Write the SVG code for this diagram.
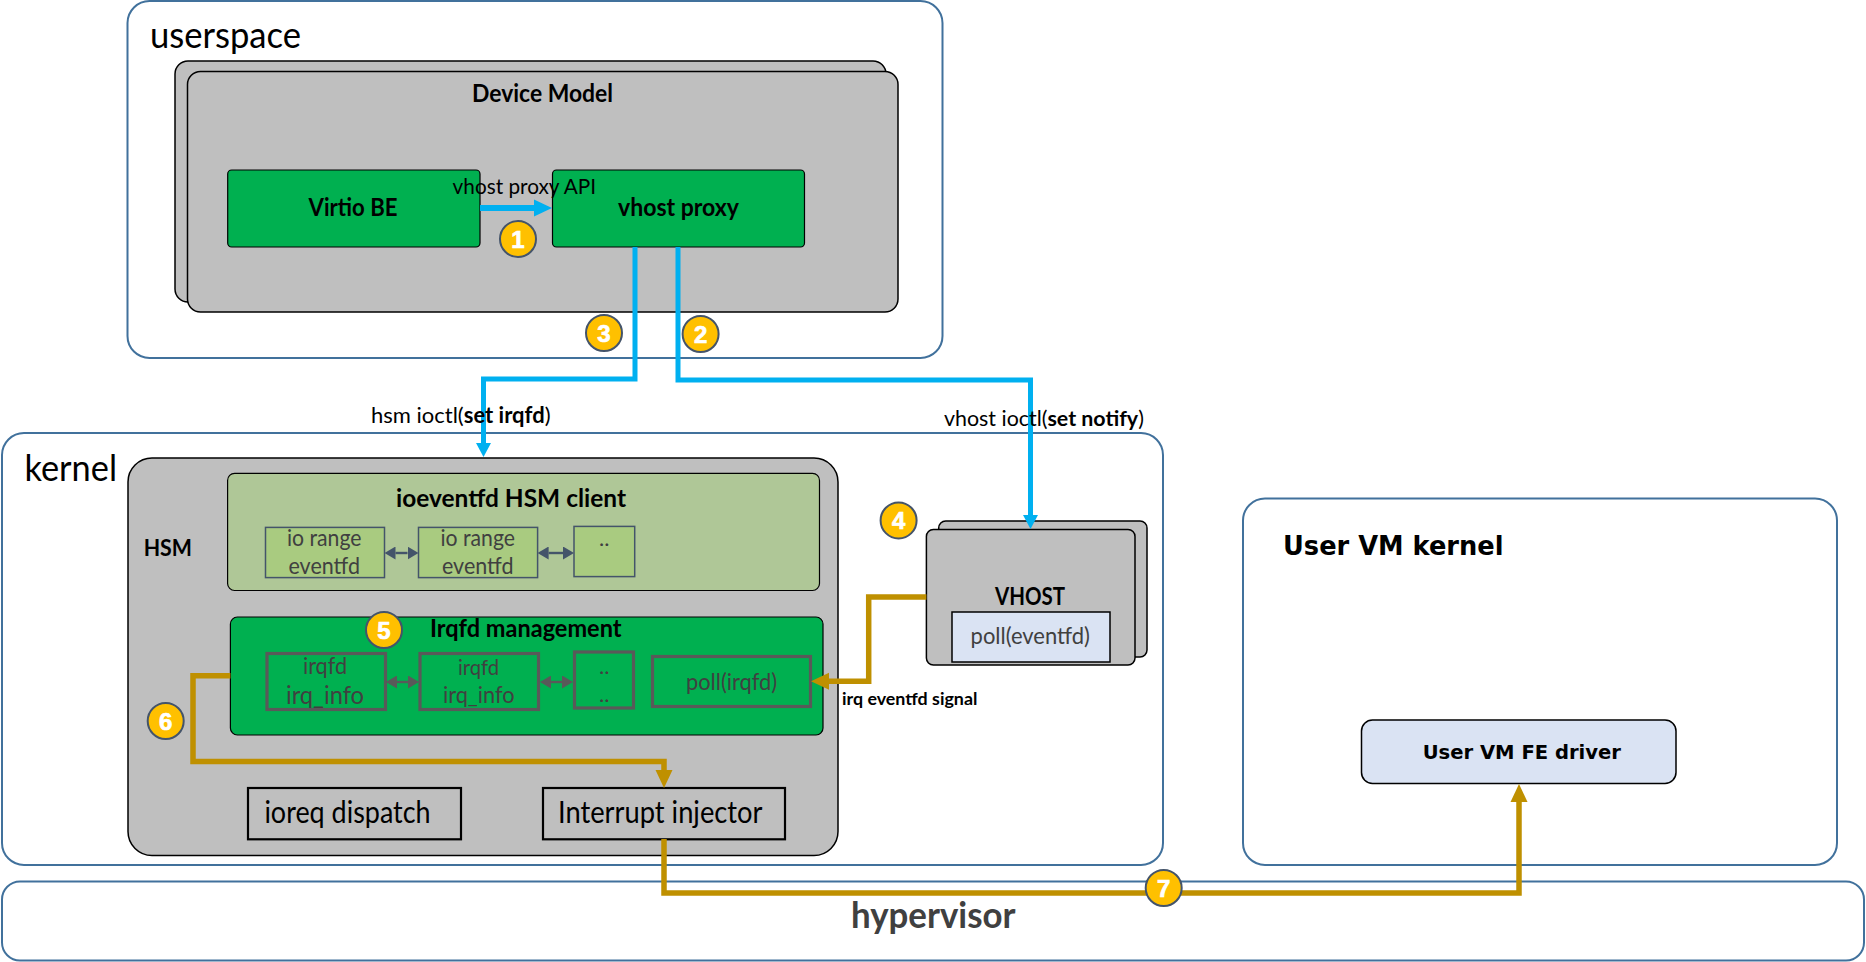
<svg xmlns="http://www.w3.org/2000/svg" width="1866" height="962" viewBox="0 0 1866 962">
<style>
text{font-family:"Lato","Open Sans","Liberation Sans",sans-serif;fill:#000}
.b{font-weight:700}
.v{font-family:"DejaVu Sans","Liberation Sans",sans-serif;font-weight:700}
.c{fill:#fff;stroke:#41719c;stroke-width:2}
.g{fill:#bfbfbf;stroke:#000;stroke-width:1.5}
.gr{fill:#00b050;stroke:#000;stroke-width:1.2}
.lg{fill:#afc797;stroke:#000;stroke-width:1.2}
.io{fill:#a9cb80;stroke:#44546a;stroke-width:1.5}
.ir{fill:none;stroke:#595959;stroke-width:3.2}
.bl{fill:none;stroke:#00b0f0;stroke-width:5}
.go{fill:none;stroke:#bf9000;stroke-width:5.5}
.d1{fill:none;stroke:#44546a;stroke-width:2.4}
.d2{fill:none;stroke:#595959;stroke-width:2.4}
.box{fill:none;stroke:#000;stroke-width:2.2}
.dk{fill:#404040}
.bd ellipse{fill:#ffc000;stroke:#44546a;stroke-width:2}
.bd text{fill:#fff;stroke:#fff;stroke-width:.7;font-family:"Liberation Sans",sans-serif;font-weight:700;font-size:24px;text-anchor:middle}
</style>
<defs>
<marker id="hb" markerUnits="userSpaceOnUse" markerWidth="14" markerHeight="16" refX="0" refY="8" orient="auto"><path d="M0 0.5L14 8L0 15.500Z" fill="#00b0f0"/></marker>
<marker id="hb1" markerUnits="userSpaceOnUse" markerWidth="18" markerHeight="18" refX="0" refY="9" orient="auto"><path d="M0 0.5L18 9L0 17.500Z" fill="#00b0f0"/></marker>
<marker id="hg" markerUnits="userSpaceOnUse" markerWidth="18" markerHeight="18" refX="0" refY="9" orient="auto"><path d="M0 0.5L18 9L0 17.500Z" fill="#bf9000"/></marker>
<marker id="d1" markerUnits="userSpaceOnUse" markerWidth="11" markerHeight="13" refX="0" refY="6.5" orient="auto-start-reverse"><path d="M0 0L11 6.5L0 13Z" fill="#44546a"/></marker>
<marker id="d2" markerUnits="userSpaceOnUse" markerWidth="11" markerHeight="13" refX="0" refY="6.5" orient="auto-start-reverse"><path d="M0 0L11 6.5L0 13Z" fill="#595959"/></marker>
</defs>

<g id="userspace">
<rect class="c" x="127.500" y="1" width="815" height="357" rx="22"/>
<text x="150" y="48" font-size="36" textLength="151" lengthAdjust="spacingAndGlyphs">userspace</text>
</g>
<g id="device-model">
<rect class="g" x="175" y="61" width="711" height="241" rx="13"/>
<rect class="g" x="187.500" y="71.500" width="710.500" height="240.500" rx="13"/>
<text class="b" x="472" y="102" font-size="24" textLength="141" lengthAdjust="spacingAndGlyphs">Device Model</text>
</g>
<g id="virtio-be">
<rect class="gr" x="227.700" y="170" width="252.300" height="77" rx="4"/>
<text class="b" x="308.500" y="216" font-size="24" textLength="89" lengthAdjust="spacingAndGlyphs">Virtio BE</text>
</g>
<g id="vhost-proxy">
<rect class="gr" x="552.500" y="170" width="252" height="77" rx="4"/>
<text class="b" x="618" y="216" font-size="24" textLength="121" lengthAdjust="spacingAndGlyphs">vhost proxy</text>
</g>
<g id="kernel">
<rect class="c" x="2" y="433" width="1161" height="432" rx="22"/>
<text x="24.500" y="481" font-size="36" textLength="92.500" lengthAdjust="spacingAndGlyphs">kernel</text>
</g>
<g id="hypervisor">
<rect class="c" x="2" y="881.500" width="1862" height="79" rx="18"/>
<text class="b dk" x="851" y="928" font-size="36" style="fill:#404040" textLength="164.500" lengthAdjust="spacingAndGlyphs">hypervisor</text>
</g>
<g id="user-vm-kernel">
<rect class="c" x="1243" y="498.600" width="594" height="366.400" rx="22"/>
<text class="v" x="1283" y="555" font-size="26" textLength="220.500" lengthAdjust="spacingAndGlyphs">User VM kernel</text>
</g>
<g id="user-vm-fe-driver">
<rect x="1361.500" y="720" width="314.500" height="63.500" rx="11" fill="#dae3f3" stroke="#000" stroke-width="1.500"/>
<text class="v" x="1422.700" y="759" font-size="20" textLength="198.300" lengthAdjust="spacingAndGlyphs">User VM FE driver</text>
</g>
<g id="hsm">
<rect class="g" x="128" y="458" width="710" height="397.500" rx="24"/>
<text class="b" x="143.700" y="556" font-size="22" textLength="48.300" lengthAdjust="spacingAndGlyphs">HSM</text>
</g>
<g id="ioeventfd-hsm-client">
<rect class="lg" x="227.600" y="473.400" width="591.900" height="117.100" rx="7"/>
<text class="b" x="396" y="507" font-size="24" textLength="230" lengthAdjust="spacingAndGlyphs">ioeventfd HSM client</text>
</g>
<g id="io-range-1">
<rect class="io" x="265.500" y="527.400" width="119" height="50.200"/>
<text class="dk" style="fill:#404040" x="287" y="546.400" font-size="23" textLength="74.500" lengthAdjust="spacingAndGlyphs">io range</text>
<text style="fill:#404040" x="288.500" y="574" font-size="23" textLength="71.500" lengthAdjust="spacingAndGlyphs">eventfd</text>
</g>
<g id="io-range-2">
<rect class="io" x="418.500" y="527.400" width="119.100" height="50.200"/>
<text style="fill:#404040" x="440.500" y="546.400" font-size="23" textLength="74.500" lengthAdjust="spacingAndGlyphs">io range</text>
<text style="fill:#404040" x="442" y="574" font-size="23" textLength="71.500" lengthAdjust="spacingAndGlyphs">eventfd</text>
</g>
<g id="io-range-more">
<rect class="io" x="574" y="526.400" width="60.700" height="50.200"/>
<text style="fill:#404040" x="604.300" y="546" font-size="22" text-anchor="middle">..</text>
</g>
<g id="irqfd-management">
<rect class="gr" x="230.400" y="617" width="592.600" height="118" rx="7"/>
<text class="b" x="430" y="637" font-size="24" textLength="191.500" lengthAdjust="spacingAndGlyphs">Irqfd management</text>
</g>
<g id="irqfd-1">
<rect class="ir" x="267" y="653.500" width="118.500" height="56"/>
<text style="fill:#404040" x="303" y="673.600" font-size="23" textLength="44" lengthAdjust="spacingAndGlyphs">irqfd</text>
<text style="fill:#404040" x="286" y="703.500" font-size="25" textLength="78" lengthAdjust="spacingAndGlyphs">irq_info</text>
</g>
<g id="irqfd-2">
<rect class="ir" x="420" y="653.500" width="118.500" height="56"/>
<text style="fill:#404040" x="458" y="675" font-size="22" textLength="41" lengthAdjust="spacingAndGlyphs">irqfd</text>
<text style="fill:#404040" x="443" y="703" font-size="23" textLength="71.500" lengthAdjust="spacingAndGlyphs">irq_info</text>
</g>
<g id="irqfd-more">
<rect class="ir" x="574.500" y="652" width="59" height="56"/>
<text style="fill:#404040" x="604.300" y="674" font-size="22" text-anchor="middle">..</text>
<text style="fill:#404040" x="604.300" y="702" font-size="22" text-anchor="middle">..</text>
</g>
<g id="poll-irqfd">
<rect class="ir" x="652.500" y="656.500" width="158" height="50"/>
<text style="fill:#404040" x="686" y="689.600" font-size="23" textLength="91" lengthAdjust="spacingAndGlyphs">poll(irqfd)</text>
</g>
<g id="ioreq-dispatch">
<rect class="box" x="248" y="788" width="213" height="51.300"/>
<text x="264.400" y="823" font-size="30" textLength="166.200" lengthAdjust="spacingAndGlyphs">ioreq dispatch</text>
</g>
<g id="interrupt-injector">
<rect class="box" x="543" y="788" width="242" height="51.300"/>
<text x="558" y="823" font-size="30" textLength="204.500" lengthAdjust="spacingAndGlyphs">Interrupt injector</text>
</g>
<g id="vhost">
<rect class="g" x="938.700" y="521" width="208.300" height="136" rx="7"/>
<rect class="g" x="926.400" y="529.400" width="208.600" height="135.600" rx="7"/>
<text class="b" x="995" y="605" font-size="24" textLength="70" lengthAdjust="spacingAndGlyphs">VHOST</text>
</g>
<g id="poll-eventfd">
<rect x="952" y="612" width="158" height="50" fill="#dae3f3" stroke="#000" stroke-width="1.500"/>
<text style="fill:#404040" x="970.600" y="644.400" font-size="23" textLength="119.400" lengthAdjust="spacingAndGlyphs">poll(eventfd)</text>
</g>

<g id="connectors">
<polyline class="bl" points="480,208 534,208" marker-end="url(#hb1)" style="stroke-width:6"/>
<polyline class="bl" points="635,247 635,379 483.500,379 483.500,443" marker-end="url(#hb)"/>
<polyline class="bl" points="678,247 678,380 1030.500,380 1030.500,515" marker-end="url(#hb)"/>
<polyline class="go" points="926.400,597 868.700,597 868.700,681.200 829,681.200" marker-end="url(#hg)"/>
<polyline class="go" points="230.400,675.700 193,675.700 193,761.500 664,761.500 664,770" marker-end="url(#hg)"/>
<polyline class="go" points="664,839 664,893 1519,893 1519,802" marker-end="url(#hg)"/>
<line class="d1" x1="395.500" y1="553" x2="407.500" y2="553" marker-start="url(#d1)" marker-end="url(#d1)"/>
<line class="d1" x1="548.600" y1="553" x2="563" y2="553" marker-start="url(#d1)" marker-end="url(#d1)"/>
<line class="d2" x1="397" y1="682" x2="408" y2="682" marker-start="url(#d2)" marker-end="url(#d2)"/>
<line class="d2" x1="551" y1="682" x2="562" y2="682" marker-start="url(#d2)" marker-end="url(#d2)"/>
</g>

<g id="labels">
<text x="452.600" y="194" font-size="22" textLength="143.400" lengthAdjust="spacingAndGlyphs">vhost proxy API</text>
<text x="371" y="423" font-size="22">hsm ioctl(<tspan class="b">set irqfd</tspan>)</text>
<text x="944" y="426" font-size="21.400">vhost ioctl(<tspan class="b">set notify</tspan>)</text>
<text class="b" x="842" y="705.200" font-size="17" textLength="135.400" lengthAdjust="spacingAndGlyphs">irq eventfd signal</text>
</g>

<g id="badge-1" class="bd"><ellipse cx="518" cy="239" rx="18" ry="18"/><text x="518" y="247.500">1</text></g>
<g id="badge-2" class="bd"><ellipse cx="700.600" cy="334" rx="18" ry="18"/><text x="700.600" y="342.500">2</text></g>
<g id="badge-3" class="bd"><ellipse cx="604" cy="333" rx="18" ry="18"/><text x="604" y="341.500">3</text></g>
<g id="badge-4" class="bd"><ellipse cx="898.600" cy="520.400" rx="18" ry="18"/><text x="898.600" y="528.900">4</text></g>
<g id="badge-5" class="bd"><ellipse cx="384" cy="630" rx="18" ry="18"/><text x="384" y="638.500">5</text></g>
<g id="badge-6" class="bd"><ellipse cx="165.700" cy="721" rx="18" ry="18"/><text x="165.700" y="729.500">6</text></g>
<g id="badge-7" class="bd"><ellipse cx="1163.700" cy="888" rx="18" ry="18"/><text x="1163.700" y="896.500">7</text></g>
</svg>
